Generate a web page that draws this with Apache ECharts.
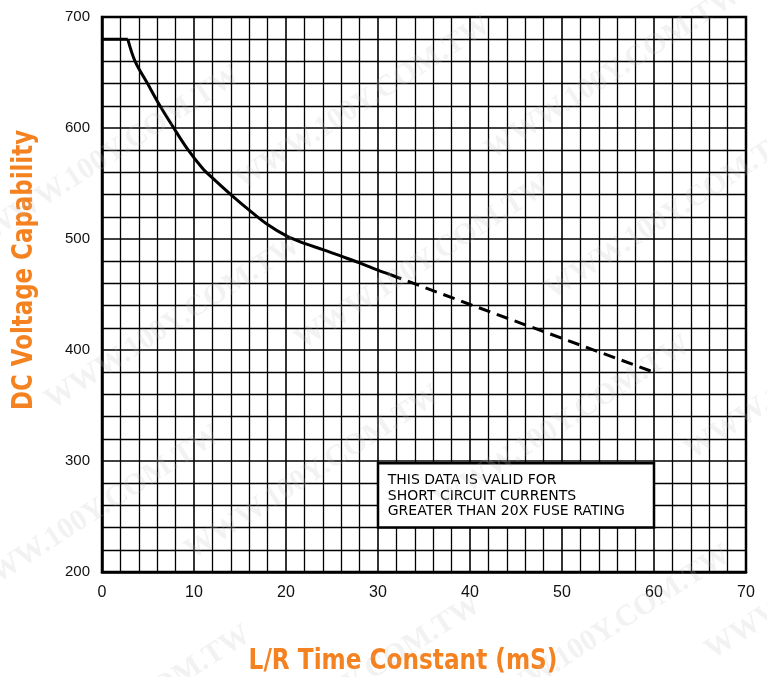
<!DOCTYPE html>
<html>
<head>
<meta charset="utf-8">
<script src="https://cdn.jsdelivr.net/npm/echarts@6/dist/echarts.min.js"></script>
<style>html,body{margin:0;padding:0;background:#fff;}#c{width:767px;height:677px;}</style>
</head>
<body>
<div id="c"></div>
<script>
// Data
var xTicks = [0, 10, 20, 30, 40, 50, 60, 70];
var yTicks = [200, 300, 400, 500, 600, 700];
var flatX = [0, 2.8];
var flatY = [680, 680];
var curveX = [2.8, 3.6, 4.95, 6.3, 7.8, 9.3, 10.9, 12, 14, 16, 18, 20, 22, 24, 26, 28, 30, 31.3];
var curveY = [680, 660, 640, 620, 600, 581, 564, 555, 540, 526, 513, 503, 496, 490.5, 484.5, 478.5, 472, 468];
var dashX = [31.3, 40, 50, 60];
var dashY = [468, 441, 410.5, 380];
var noteLines = ['THIS DATA IS VALID FOR', 'SHORT CIRCUIT CURRENTS', 'GREATER THAN 20X FUSE RATING'];
var noteBox = [[30, 298], [60, 240]];
var xTitle = 'L/R Time Constant (mS)';
var yTitle = 'DC Voltage Capability';

function pairs(xs, ys) { return xs.map(function (x, i) { return [x, ys[i]]; }); }

var chart = echarts.init(document.getElementById('c'), null, { renderer: 'canvas' });

var orange = '#F58220';
var gfx = [];
var wmPos = [[-20,60],[230,10],[480,-20],[40,230],[290,170],[540,120],[-40,420],[180,380],[430,330],[680,280],[-10,620],[220,590],[470,540],[700,480]];
wmPos.forEach(function (p) {
  gfx.push({ type: 'text', left: p[0], top: p[1], rotation: Math.PI / 5.5, z: 100, silent: true,
    style: { text: 'WWW.100Y.COM.TW', font: 'bold 30px "Liberation Serif", serif', fill: 'rgba(190,190,190,0.2)' } });
});
gfx.push({ type: 'text', x: 403, y: 661, scaleX: 0.8, silent: true,
  style: { text: xTitle, font: 'bold 29px "DejaVu Sans", sans-serif', fill: orange, textAlign: 'center', textVerticalAlign: 'middle' } });
gfx.push({ type: 'text', x: 24, y: 270, rotation: Math.PI / 2, scaleX: 0.79, silent: true,
  style: { text: yTitle, font: 'bold 29px "DejaVu Sans", sans-serif', fill: orange, textAlign: 'center', textVerticalAlign: 'middle' } });

var lineStyleSolid = { color: '#000', width: 3 };

chart.setOption({
  animation: false,
  backgroundColor: '#fff',
  grid: { left: 102, top: 17, width: 644, height: 555, containLabel: false, outerBoundsMode: 'none',
    show: true, borderColor: '#000', borderWidth: 2.5, backgroundColor: 'transparent' },
  xAxis: {
    type: 'value', min: 0, max: 70, interval: 10,
    axisLine: { show: true, lineStyle: { color: '#000', width: 2.5 } },
    axisTick: { show: false },
    minorTick: { show: false, splitNumber: 5 },
    splitLine: { show: true, lineStyle: { color: '#000', width: 1.6 } },
    minorSplitLine: { show: true, lineStyle: { color: '#000', width: 1.3 } },
    axisLabel: { margin: 13, color: '#111', fontSize: 16, fontFamily: '"Liberation Sans", sans-serif',
      formatter: function (v) { return xTicks.indexOf(v) >= 0 ? String(v) : ''; } }
  },
  yAxis: {
    type: 'value', min: 200, max: 700, interval: 100,
    axisLine: { show: true, lineStyle: { color: '#000', width: 2.5 } },
    axisTick: { show: false },
    minorTick: { show: false, splitNumber: 5 },
    splitLine: { show: true, lineStyle: { color: '#000', width: 1.6 } },
    minorSplitLine: { show: true, lineStyle: { color: '#000', width: 1.3 } },
    axisLabel: { margin: 12, color: '#111', fontSize: 15, fontFamily: '"Liberation Sans", sans-serif',
      formatter: function (v) { return yTicks.indexOf(v) >= 0 ? String(v) : ''; } }
  },
  series: [
    {
      type: 'line', data: pairs(flatX, flatY), showSymbol: false, symbol: 'none',
      lineStyle: lineStyleSolid, z: 5,
      markArea: {
        silent: true,
        itemStyle: { color: '#fff', borderColor: '#000', borderWidth: 2.5 },
        label: { show: true, position: 'insideTopLeft', distance: 11, color: '#000', fontSize: 14, lineHeight: 15.5,
          fontFamily: '"DejaVu Sans", sans-serif', formatter: noteLines.join('\n') },
        data: [[{ coord: noteBox[0] }, { coord: noteBox[1] }]]
      }
    },
    {
      type: 'line', data: pairs(curveX, curveY), showSymbol: false, symbol: 'none',
      smooth: 0.35,
      lineStyle: lineStyleSolid, z: 5
    },
    {
      type: 'line', data: pairs(dashX, dashY), showSymbol: false, symbol: 'none',
      lineStyle: { color: '#000', width: 3, type: [12, 7] }, z: 5
    }
  ],
  graphic: gfx
});
</script>
</body>
</html>
